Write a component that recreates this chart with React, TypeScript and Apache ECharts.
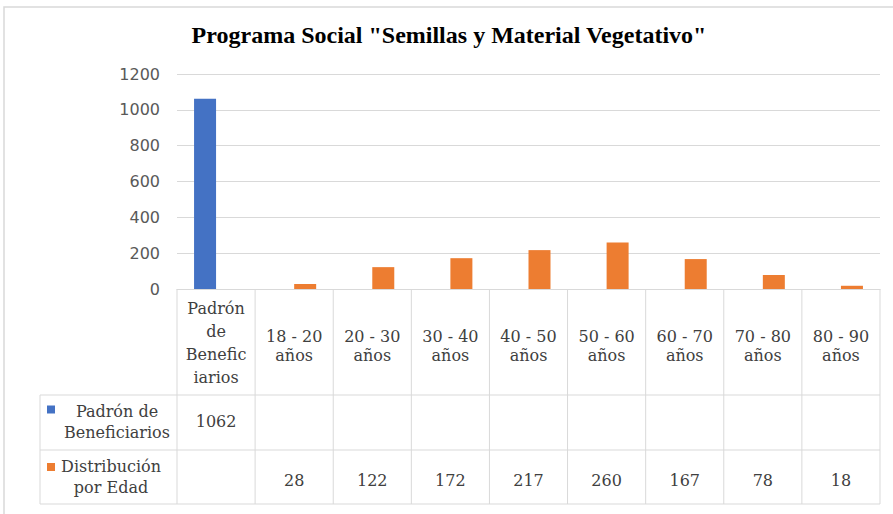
import React, { useEffect, useRef } from "react";
import * as echarts from "echarts";

const titleText = 'Programa Social "Semillas y Material Vegetativo"';
const categories = [
  "Padrón\nde\nBenefic\niarios",
  "18 - 20\naños",
  "20 - 30\naños",
  "30 - 40\naños",
  "40 - 50\naños",
  "50 - 60\naños",
  "60 - 70\naños",
  "70 - 80\naños",
  "80 - 90\naños",
];
const seriesNames = ["Padrón de Beneficiarios", "Distribución por Edad"];
const seriesTableNames = ["Padrón de\nBeneficiarios", "Distribución\npor Edad"];
const padronValues: (number | null)[] = [1062, null, null, null, null, null, null, null, null];
const edadValues: (number | null)[] = [null, 28, 122, 172, 217, 260, 167, 78, 18];
const yMin = 0;
const yMax = 1200;
const yInterval = 200;

const BLUE = "#4472C4";
const ORANGE = "#ED7D31";
const GRID = "#d9d9d9";
const TEXT = "#404040";
const SERIF = "'DejaVu Serif', serif";

export default function App() {
  const ref = useRef<HTMLDivElement>(null);
  useEffect(() => {
    const chart = echarts.init(ref.current!, null, { renderer: "svg" });
    chart.setOption({
      animation: false,
      title: {
        text: titleText,
        left: 449,
        top: 23,
        padding: 0,
        textAlign: "center",
        textStyle: {
          fontFamily: "'Liberation Serif', serif",
          fontWeight: "bold",
          fontSize: 24,
          color: "#000",
        },
      },
      grid: { left: 177, right: 13, top: 74, bottom: 225, containLabel: false },
      xAxis: {
        type: "category",
        data: categories,
        axisLine: { show: true, lineStyle: { color: GRID, width: 1 } },
        axisTick: { show: false },
        axisLabel: { show: false },
        splitLine: { show: false },
      },
      yAxis: {
        type: "value",
        min: yMin,
        max: yMax,
        interval: yInterval,
        axisLine: { show: false },
        axisTick: { show: false },
        axisLabel: {
          fontFamily: "'DejaVu Sans', sans-serif",
          fontSize: 16,
          color: "#595959",
          margin: 17,
          formatter: (v: number) => String(v),
        },
        splitLine: { lineStyle: { color: GRID, width: 1 } },
      },
      series: [
        {
          name: seriesNames[0],
          type: "bar",
          data: padronValues,
          barWidth: 22,
          barGap: "0%",
          itemStyle: { color: BLUE },
        },
        {
          name: seriesNames[1],
          type: "bar",
          data: edadValues,
          barWidth: 22,
          barGap: "0%",
          itemStyle: { color: ORANGE },
        },
      ],
    });

    // Build the data table from the axis scale
    const xs = categories.map((_, i) => chart.convertToPixel({ xAxisIndex: 0 }, i) as number);
    const cw = xs[1] - xs[0];
    const bounds = [...xs.map((x) => x - cw / 2), xs[xs.length - 1] + cw / 2];
    const y0 = chart.convertToPixel({ yAxisIndex: 0 }, 0) as number;
    const headerBottom = y0 + 106;
    const row2Bottom = headerBottom + 55;
    const row3Bottom = row2Bottom + 54;
    const legendLeft = 40;
    const tableRight = bounds[bounds.length - 1];

    const elements: any[] = [];
    const line = (x1: number, y1: number, x2: number, y2: number) =>
      elements.push({
        type: "line",
        shape: { x1, y1, x2, y2 },
        style: { stroke: GRID, lineWidth: 1 },
        silent: true,
      });
    const text = (x: number, y: number, t: string, lh: number, align = "center") =>
      elements.push({
        type: "text",
        x,
        y,
        style: {
          text: t,
          fontFamily: SERIF,
          fontSize: 16,
          fill: TEXT,
          align,
          verticalAlign: "middle",
          lineHeight: lh,
        },
        silent: true,
      });

    // horizontal lines
    line(legendLeft, headerBottom, tableRight, headerBottom);
    line(legendLeft, row2Bottom, tableRight, row2Bottom);
    line(legendLeft, row3Bottom, tableRight, row3Bottom);
    // vertical lines
    line(legendLeft, headerBottom, legendLeft, row3Bottom);
    bounds.forEach((b) => line(b, y0, b, row3Bottom));

    // header labels
    categories.forEach((c, i) => {
      const multi = c.split("\n").length > 2;
      text(xs[i], multi ? y0 + 54 : y0 + 57, c, multi ? 23 : 19);
    });

    // legend cells
    const r2c = (headerBottom + row2Bottom) / 2;
    const r3c = (row2Bottom + row3Bottom) / 2;
    elements.push({
      type: "rect",
      shape: { x: 47, y: r2c - 17, width: 8, height: 8 },
      style: { fill: BLUE },
    });
    elements.push({
      type: "rect",
      shape: { x: 47, y: r3c - 14, width: 8, height: 8 },
      style: { fill: ORANGE },
    });
    text(117, r2c - 1, seriesTableNames[0], 21);
    text(111, r3c, seriesTableNames[1], 21);

    // values
    padronValues.forEach((v, i) => {
      if (v != null) text(xs[i], r2c - 1, String(v), 21);
    });
    edadValues.forEach((v, i) => {
      if (v != null) text(xs[i], r3c + 3, String(v), 21);
    });

    // outer chart border
    elements.push({
      type: "rect",
      shape: { x: 4, y: 7, width: 900, height: 520 },
      style: { fill: "none", stroke: GRID, lineWidth: 1.5 },
      silent: true,
    });

    chart.setOption({ graphic: { elements } });

    return () => chart.dispose();
  }, []);
  return (
    <div
      ref={ref}
      style={{ position: "fixed", left: 0, top: 0, width: 893, height: 514, background: "#fff" }}
    />
  );
}
